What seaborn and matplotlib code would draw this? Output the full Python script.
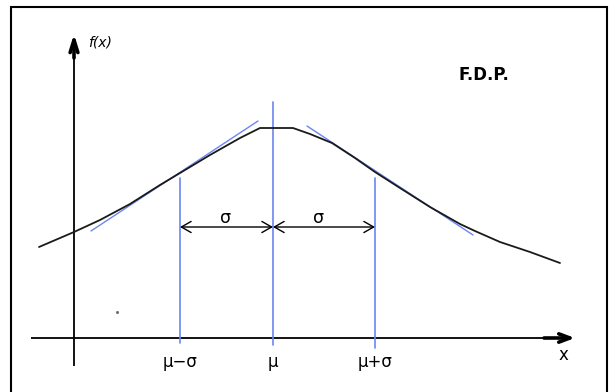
import matplotlib
matplotlib.use("Agg")
import matplotlib.pyplot as plt
from matplotlib.patches import Rectangle
import seaborn as sns
import pandas as pd

# Density curve (hand-drawn polyline), x measured from the f(x) axis, y above the x axis
curve_x = [-35, 0, 26, 56, 86, 106, 136, 166, 186, 219, 236, 258, 281, 301,
           326, 356, 386, 401, 426, 456, 486]
curve_y = [91, 106, 118, 134, 153, 165, 183, 200, 210, 210, 204, 195, 180, 166,
           150, 131, 114, 107, 96, 86, 75]

# Reference positions on the x axis
mu = 199
mu_minus_sigma = 106
mu_plus_sigma = 301
tick_labels = ["\u03bc\u2212\u03c3", "\u03bc", "\u03bc+\u03c3"]

# Vertical guide lines: (x, bottom, top)
guide_x = [mu_minus_sigma, mu, mu_plus_sigma]
guide_bottom = [-5, -7, -10]
guide_top = [160, 236, 160]

# Inflection tangents: (x0, y0, x1, y1)
tangent_left = [17, 107, 184, 217]
tangent_right = [233, 212, 399, 103]

sigma_arrow_y = 111

sns.set_style("white")
plt.rcParams["font.family"] = ["DejaVu Sans"]
plt.rcParams["text.color"] = "black"

fig = plt.figure(figsize=(6.13, 3.92), dpi=100)
ax = fig.add_axes([0, 0, 1, 1])
ax.set_xlim(-74, 539)
ax.set_ylim(-54, 338)
ax.axis("off")

blue = "#6b86f2"

# Frame
top = 1 - 7 / 392
fig.patches.append(Rectangle((11 / 613, -0.02), 596 / 613, top + 0.02,
                             transform=fig.transFigure, fill=False,
                             edgecolor="black", lw=1.5))

# Coordinate axes
ax.plot([-43, 494], [0, 0], color="black", lw=1.3, solid_capstyle="butt")
ax.plot([0, 0], [-28, 296], color="black", lw=1.3, solid_capstyle="butt")
ax.annotate("", xy=(501, 0), xytext=(470, 0),
            arrowprops=dict(arrowstyle="->,head_length=0.8,head_width=0.3",
                            color="black", lw=2.6, shrinkA=0, shrinkB=0))
ax.annotate("", xy=(0, 304), xytext=(0, 280),
            arrowprops=dict(arrowstyle="->,head_length=0.9,head_width=0.28",
                            color="black", lw=2.6, shrinkA=0, shrinkB=0))

# Guide lines
for gx, gb, gt in zip(guide_x, guide_bottom, guide_top):
    ax.plot([gx, gx], [gb, gt], color=blue, lw=1.2)

# Tangent lines
ax.plot(tangent_left[0::2], tangent_left[1::2], color=blue, lw=1.0)
ax.plot(tangent_right[0::2], tangent_right[1::2], color=blue, lw=1.0)

# Density curve
df = pd.DataFrame({"x": curve_x, "y": curve_y})
sns.lineplot(data=df, x="x", y="y", sort=False, color="#1a1a1a", lw=1.3, ax=ax)
ax.set_xlabel("")
ax.set_ylabel("")

# Sigma arrows
for a, b in [(mu_minus_sigma, mu), (mu, mu_plus_sigma)]:
    ax.annotate("", xy=(b, sigma_arrow_y), xytext=(a, sigma_arrow_y),
                arrowprops=dict(arrowstyle="<->,head_length=0.7,head_width=0.4",
                                color="black", lw=1.0, shrinkA=0, shrinkB=0))
ax.text((mu_minus_sigma + mu) / 2 - 1, sigma_arrow_y + 9, "\u03c3",
        ha="center", va="center", fontsize=12.5)
ax.text((mu + mu_plus_sigma) / 2 - 5, sigma_arrow_y + 9, "\u03c3",
        ha="center", va="center", fontsize=12.5)

# Tick labels
for gx, lab in zip(guide_x, tick_labels):
    ax.text(gx, -24, lab, ha="center", va="center", fontsize=12)

# Axis labels and title
ax.text(489, -17, "x", ha="center", va="center", fontsize=12)
ax.text(14, 296, "f(x)", ha="left", va="center", fontsize=10, style="italic")
ax.text(384, 263, "F.D.P.", ha="left", va="center", fontsize=12,
        fontweight="bold")

# Stray pen mark
ax.plot([43], [26], marker="s", ms=1.0, color="#666666", lw=0)

fig.savefig("out.png", dpi=100)
